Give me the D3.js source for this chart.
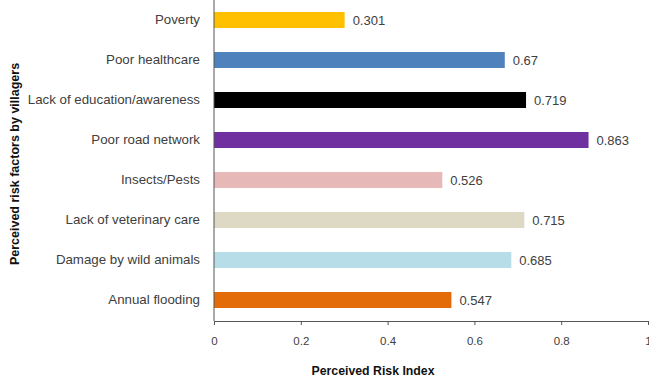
<!DOCTYPE html>
<html><head><meta charset="utf-8">
<script src="https://cdn.jsdelivr.net/npm/d3@7"></script>
<style>body{margin:0;background:#fff}svg{display:block}text{font-family:"Liberation Sans",Arial,sans-serif}</style>
</head><body><svg id="c" width="649" height="378"></svg>
<script>
const categories = ["Poverty","Poor healthcare","Lack of education/awareness","Poor road network","Insects/Pests","Lack of veterinary care","Damage by wild animals","Annual flooding"];
const values = [0.301,0.67,0.719,0.863,0.526,0.715,0.685,0.547];
const colors = ["#FFC000","#4F81BD","#000000","#7030A0","#E6B9B8","#DDD9C4","#B7DEE8","#E36C09"];
const tickValues = [0,0.2,0.4,0.6,0.8,1];
const xTitle = "Perceived Risk Index";
const yTitle = "Perceived risk factors by villagers";

const svg = d3.select("#c");
const x = d3.scaleLinear().domain([0,1]).range([214,648]);
const y = d3.scaleBand().domain(categories).range([0,320]).paddingInner(0.6).paddingOuter(0.3);

svg.selectAll("rect.bar").data(categories).join("rect")
  .attr("x", x(0)).attr("y", d=>y(d)).attr("height", y.bandwidth())
  .attr("width", (d,i)=>x(values[i])-x(0)).attr("fill",(d,i)=>colors[i]);

svg.selectAll("text.val").data(categories).join("text")
  .attr("x",(d,i)=>x(values[i])+8).attr("y",d=>y(d)+y.bandwidth()/2).attr("dy","0.35em")
  .attr("font-size",13).attr("fill","#404040").text((d,i)=>values[i]);

// y axis
const ya = svg.append("g").attr("transform",`translate(${x(0)},0)`)
  .call(d3.axisLeft(y).tickSize(0).tickPadding(14));
ya.select(".domain").attr("stroke","#555").attr("d","M0,0V321");
ya.selectAll("text").attr("font-size",13.3).attr("fill","#404040").style("font-family","Liberation Sans, Arial, sans-serif");

// x axis
const xa = svg.append("g").attr("transform","translate(0,321)")
  .call(d3.axisBottom(x).tickValues(tickValues).tickFormat(d3.format("")).tickSize(4).tickSizeOuter(0).tickPadding(12));
xa.select(".domain").attr("stroke","#555");
xa.selectAll(".tick line").attr("stroke","#555");
xa.selectAll("text").attr("font-size",11.5).attr("fill","#404040").style("font-family","Liberation Sans, Arial, sans-serif");

svg.append("text").attr("x",373).attr("y",375).attr("text-anchor","middle")
  .attr("font-size",12.3).attr("font-weight","bold").attr("fill","#111").text(xTitle);
svg.append("text").attr("transform","translate(19,164) rotate(-90)").attr("text-anchor","middle")
  .attr("font-size",12.5).attr("font-weight","bold").attr("fill","#111").text(yTitle);
</script></body></html>
